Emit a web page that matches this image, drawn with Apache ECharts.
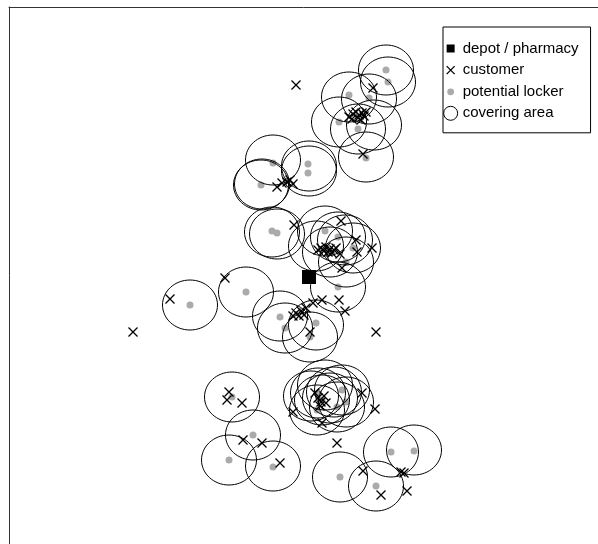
<!DOCTYPE html>
<html>
<head>
<meta charset="utf-8">
<script src="https://cdn.jsdelivr.net/npm/echarts@6/dist/echarts.min.js"></script>
<style>html,body{margin:0;padding:0;background:#fff;}#c{width:598px;height:544px;}</style>
</head>
<body>
<div id="c"></div>
<script>
// Coordinates (x to the right, y downward)
const depotX = [309];
const depotY = [277];

const customerX = [296, 373,
  349, 352, 353, 356, 358, 359, 361, 362, 364, 366,
  363,
  277, 282, 287, 290, 293,
  294,
  341,
  318, 321, 324, 326, 328, 330, 332, 334, 336, 340,
  357, 372, 356,
  342,
  225, 170,
  293, 296, 299, 301, 304, 306, 313, 322, 339, 345, 310,
  376, 133,
  229, 227, 242,
  243, 262, 280,
  293, 315, 322,
  318, 321, 324, 320, 326,
  362, 375, 337,
  363, 401, 404, 381, 407];
const customerY = [85, 88,
  117, 119, 114, 112, 118, 115, 120, 113, 116, 112,
  154,
  187, 183, 182, 180, 184,
  225,
  221,
  250, 248, 251, 247, 252, 249, 253, 250, 248, 254,
  252, 248, 240,
  268,
  278, 299,
  316, 313, 316, 311, 315, 308, 303, 300, 300, 311, 332,
  332, 332,
  392, 400, 403,
  440, 443, 463,
  412, 393, 423,
  398, 402, 396, 406, 403,
  393, 409, 443,
  471, 472, 473, 495, 491];

const lockerX = [386, 388, 349, 369, 339, 358, 366,
  273, 261, 308, 308, 272, 277,
  325, 338, 353, 330, 346, 338,
  190, 246, 280, 285, 316, 310,
  232, 253, 229, 273,
  318, 322, 317, 342, 346, 337,
  340, 376, 391, 414];
const lockerY = [70, 82, 95, 98, 122, 129, 158,
  163, 185, 164, 173, 231, 233,
  231, 237, 248, 252, 262, 287,
  305, 292, 317, 328, 323, 337,
  397, 435, 460, 467,
  393, 400, 410, 390, 402, 407,
  477, 486, 452, 451];

const coverX = [386, 388, 349, 369, 339, 358, 374, 366,
  273, 261, 262, 309, 309, 272, 277,
  325, 338, 353, 330, 346, 338, 316, 345,
  190, 246, 280, 285, 316, 310,
  232, 253, 229, 273,
  318, 322, 317, 342, 346, 337, 330, 325, 311, 334,
  340, 376, 391, 414];
const coverY = [70, 82, 97, 99, 122, 129, 125, 157,
  160, 185, 184, 166, 171, 232, 234,
  231, 237, 248, 252, 262, 287, 246, 240,
  305, 292, 316, 328, 325, 337,
  397, 435, 460, 466,
  393, 400, 410, 390, 402, 407, 398, 385, 396, 392,
  477, 486, 452, 450];

// covering radius (horizontal, vertical) in axis units
const coverRadius = [27.5, 25];

const seriesNames = ['depot / pharmacy', 'customer', 'potential locker', 'covering area'];

function pairs(xs, ys) { return xs.map((x, i) => [x, ys[i]]); }

const chart = echarts.init(document.getElementById('c'), null, {renderer: 'canvas'});
const font = '"Liberation Sans", Arial, Helvetica, sans-serif';

chart.setOption({
  animation: false,
  backgroundColor: '#fff',
  grid: {left: 9, top: 7, width: 589, height: 537, containLabel: false},
  xAxis: {
    type: 'value', min: 9, max: 598, position: 'top',
    axisLine: {show: true, onZero: false, lineStyle: {color: '#333', width: 1}},
    axisTick: {show: false}, axisLabel: {show: false}, splitLine: {show: false}
  },
  yAxis: {
    type: 'value', min: 7, max: 544, inverse: true, position: 'left',
    axisLine: {show: true, onZero: false, lineStyle: {color: '#333', width: 1}},
    axisTick: {show: false}, axisLabel: {show: false}, splitLine: {show: false}
  },
  legend: {
    orient: 'vertical', left: 443, top: 27,
    padding: [14, 12, 12, 0],
    itemGap: 6.5, itemWidth: 14, itemHeight: 14,
    borderColor: '#000', borderWidth: 1, backgroundColor: '#fff', borderRadius: 0,
    selectedMode: false,
    textStyle: {fontFamily: font, fontSize: 15, color: '#000', lineHeight: 14},
    data: [
      {name: seriesNames[0], icon: 'path://M0,0M14,14M3,3h8v8h-8z', itemStyle: {color: '#000', borderWidth: 0, opacity: 1}},
      {name: seriesNames[1], icon: 'path://M0,0M14,14M3,3L11,11M11,3L3,11', itemStyle: {color: '#000', borderColor: '#000', borderWidth: 1.3, opacity: 1}},
      {name: seriesNames[2], icon: 'path://M0,0M14,14M3.6,7a3.4,3.4 0 1,0 6.8,0a3.4,3.4 0 1,0 -6.8,0', itemStyle: {color: '#aaa', borderWidth: 0, opacity: 1}},
      {name: seriesNames[3], icon: 'circle', itemStyle: {color: 'rgba(0,0,0,0)', borderColor: '#000', borderWidth: 1, opacity: 1}}
    ]
  },
  series: [
    {
      name: seriesNames[2], type: 'scatter', z: 2,
      data: pairs(lockerX, lockerY),
      symbol: 'circle', symbolSize: 7,
      itemStyle: {color: '#aaa', opacity: 1},
      silent: true
    },
    {
      name: seriesNames[3], type: 'custom', z: 3,
      data: pairs(coverX, coverY),
      renderItem: function (params, api) {
        const c = api.coord([api.value(0), api.value(1)]);
        const s = api.size([coverRadius[0] * 2, coverRadius[1] * 2], [api.value(0), api.value(1)]);
        return {
          type: 'ellipse',
          shape: {cx: c[0], cy: c[1], rx: s[0] / 2, ry: s[1] / 2},
          style: {fill: null, stroke: '#000', lineWidth: 1}
        };
      },
      itemStyle: {color: '#000'},
      silent: true
    },
    {
      name: seriesNames[1], type: 'scatter', z: 4,
      data: pairs(customerX, customerY),
      symbol: 'path://M0,0L10,10M10,0L0,10', symbolSize: 9,
      itemStyle: {color: '#000', borderColor: '#000', borderWidth: 1.3, opacity: 1},
      silent: true
    },
    {
      name: seriesNames[0], type: 'scatter', z: 5,
      data: pairs(depotX, depotY),
      symbol: 'rect', symbolSize: 14,
      itemStyle: {color: '#000', opacity: 1},
      silent: true
    }
  ]
});
</script>
</body>
</html>
